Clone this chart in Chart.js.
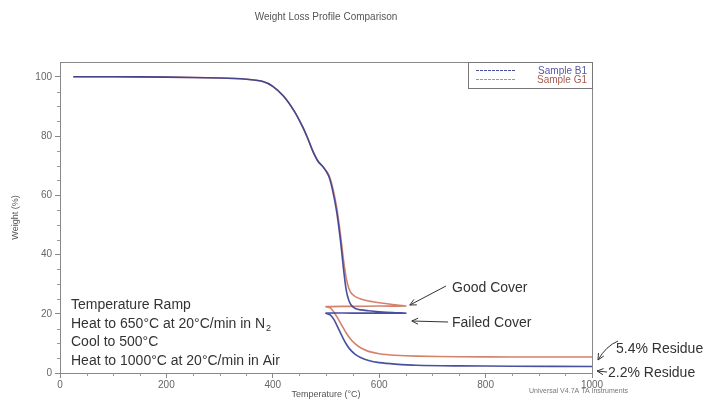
<!DOCTYPE html>
<html>
<head>
<meta charset="utf-8">
<title>Weight Loss Profile Comparison</title>
<script src="https://cdn.jsdelivr.net/npm/chart.js@4.4.1/dist/chart.umd.min.js"></script>
<style>
  html, body { margin: 0; padding: 0; background: #fff; }
  #wrap { width: 710px; height: 400px; }
</style>
</head>
<body>
<div id="wrap"><canvas id="tgaChart" width="710" height="400"></canvas></div>
<script>
// TGA data: heat to 650 in N2, cool to 500, heat to 1000 in air
const b1Temp = [25, 100, 200, 300, 350, 380, 400, 420, 440, 455, 465, 475, 485, 495, 505, 512, 520, 527, 533, 538, 543, 548, 555, 565, 580, 600, 625, 650, 600, 550, 500, 508, 515, 522, 530, 538, 546, 555, 565, 580, 600, 630, 670, 750, 850, 1000];
const b1Weight = [100, 100, 99.9, 99.6, 99.2, 98.5, 96.8, 93.5, 88.5, 83.5, 79.5, 75, 71.5, 69.5, 66.5, 62, 54.5, 45, 35, 28, 24.5, 22.8, 21.8, 21.3, 21, 20.7, 20.4, 20.2, 20.2, 20.2, 20.2, 19.6, 18, 15.5, 12.5, 9.8, 7.8, 6.3, 5.2, 4.2, 3.5, 3, 2.6, 2.4, 2.3, 2.2];

const g1Temp = [25, 100, 200, 300, 350, 380, 400, 420, 440, 455, 465, 475, 485, 495, 505, 512, 520, 527, 533, 538, 543, 548, 555, 565, 580, 600, 625, 650, 600, 550, 500, 508, 515, 522, 530, 538, 546, 555, 565, 580, 600, 630, 670, 750, 850, 1000];
const g1Weight = [100, 100, 99.9, 99.6, 99.2, 98.5, 96.8, 93.5, 88.5, 83.5, 79.5, 75, 71.5, 69.5, 67, 63, 56, 47, 38, 32, 28.5, 26.8, 25.8, 25, 24.3, 23.7, 23.1, 22.6, 22.6, 22.5, 22.4, 22, 20.5, 18.5, 16, 13.5, 11.5, 9.8, 8.5, 7.3, 6.5, 6, 5.7, 5.5, 5.4, 5.4];

const seriesNames = ['Sample B1', 'Sample G1'];
const rampNotes = ['Temperature Ramp', 'Heat to 650°C at 20°C/min in N', 'Cool to 500°C', 'Heat to 1000°C at 20°C/min in Air'];

const FONT = "'Liberation Sans', Arial, sans-serif";
const toPoints = (xs, ys) => xs.map((x, i) => ({ x: x, y: ys[i] }));

function arrow(ctx, x1, y1, x2, y2, cx, cy) {
  ctx.beginPath();
  ctx.moveTo(x1, y1);
  if (cx !== undefined) ctx.quadraticCurveTo(cx, cy, x2, y2);
  else ctx.lineTo(x2, y2);
  ctx.stroke();
  const a = cx !== undefined ? Math.atan2(y2 - cy, x2 - cx) : Math.atan2(y2 - y1, x2 - x1);
  const h = 7;
  ctx.beginPath();
  ctx.moveTo(x2 - h * Math.cos(a - 0.45), y2 - h * Math.sin(a - 0.45));
  ctx.lineTo(x2, y2);
  ctx.lineTo(x2 - h * Math.cos(a + 0.45), y2 - h * Math.sin(a + 0.45));
  ctx.stroke();
}

// frame, minor ticks, legend box and the hand-drawn notes
const extras = {
  id: 'extras',
  afterDraw(chart) {
    const ctx = chart.ctx;
    const area = chart.chartArea;
    const xs = chart.scales.x, ys = chart.scales.y;
    ctx.save();

    ctx.strokeStyle = '#888';
    ctx.lineWidth = 1;
    ctx.strokeRect(area.left + 0.5, area.top + 0.5, area.right - area.left, area.bottom - area.top);

    // minor ticks
    ctx.strokeStyle = '#999';
    ctx.beginPath();
    for (let v = 5; v <= 100; v += 5) {
      if (v % 20 === 0) continue;
      const py = Math.round(ys.getPixelForValue(v)) + 0.5;
      ctx.moveTo(area.left - 3, py);
      ctx.lineTo(area.left, py);
    }
    for (let v = 50; v < 1000; v += 50) {
      if (v % 200 === 0) continue;
      const px = Math.round(xs.getPixelForValue(v)) + 0.5;
      ctx.moveTo(px, area.bottom);
      ctx.lineTo(px, area.bottom + 3);
    }
    ctx.stroke();

    // legend
    const lx = area.left + 408, ly = area.top;
    ctx.fillStyle = '#fff';
    ctx.fillRect(lx, ly, area.right - lx, 26);
    ctx.strokeStyle = '#777';
    ctx.strokeRect(lx + 0.5, ly + 0.5, area.right - lx, 26);
    const textCols = ['#5656a8', '#a85a50'];
    chart.data.datasets.forEach((ds, i) => {
      const y = ly + 8 + i * 9;
      ctx.strokeStyle = ds.borderColor;
      ctx.setLineDash([3, 1]);
      ctx.beginPath();
      ctx.moveTo(lx + 8, y + 0.5);
      ctx.lineTo(lx + 48, y + 0.5);
      ctx.stroke();
      ctx.setLineDash([]);
      ctx.fillStyle = textCols[i];
      ctx.font = '10px ' + FONT;
      ctx.textAlign = 'right';
      ctx.textBaseline = 'middle';
      ctx.fillText(ds.label, area.right - 5, y + 1);
    });

    // footer credit
    ctx.fillStyle = '#777';
    ctx.font = '7px ' + FONT;
    ctx.textAlign = 'left';
    ctx.textBaseline = 'middle';
    ctx.fillText('Universal V4.7A TA Instruments', 529, 391);

    // ramp notes
    ctx.fillStyle = '#333';
    ctx.font = '14px ' + FONT;
    ctx.textBaseline = 'alphabetic';
    const rows = [309, 328, 346, 365];
    rampNotes.forEach((t, i) => ctx.fillText(t, 71, rows[i]));
    const nw = ctx.measureText(rampNotes[1]).width;
    ctx.font = '9px ' + FONT;
    ctx.fillText('2', 71 + nw + 1, rows[1] + 3);

    // cover labels and arrows
    ctx.font = '14px ' + FONT;
    ctx.fillText('Good Cover', 452, 292);
    ctx.fillText('Failed Cover', 452, 327);
    ctx.fillText('5.4% Residue', 616, 353);
    ctx.fillText('2.2% Residue', 608, 377);

    ctx.strokeStyle = '#333';
    ctx.lineWidth = 1;
    const endX = xs.getPixelForValue(650);
    arrow(ctx, 446, 286, endX + 4, ys.getPixelForValue(22.6) - 1);
    arrow(ctx, 448, 322, endX + 6, 321);
    const edge = xs.getPixelForValue(1000);
    arrow(ctx, 618, 341, edge + 6, ys.getPixelForValue(5.4) + 3, 606, 346);
    arrow(ctx, 607, 372, edge + 5, 371);

    ctx.restore();
  }
};

new Chart(document.getElementById('tgaChart'), {
  type: 'scatter',
  data: {
    datasets: [
      {
        label: seriesNames[0],
        data: toPoints(b1Temp, b1Weight),
        borderColor: 'rgba(52, 62, 150, 0.9)',
        backgroundColor: 'rgba(52, 62, 150, 0.9)',
        borderWidth: 1.6,
        showLine: true,
        pointRadius: 0,
        tension: 0.3
      },
      {
        label: seriesNames[1],
        data: toPoints(g1Temp, g1Weight),
        borderColor: '#d4826c',
        backgroundColor: '#d4826c',
        borderWidth: 1.6,
        showLine: true,
        pointRadius: 0,
        tension: 0.3
      }
    ]
  },
  options: {
    responsive: false,
    animation: false,
    layout: { padding: { left: 0, right: 118, top: 0, bottom: 0 } },
    plugins: {
      legend: { display: false },
      tooltip: { enabled: false },
      title: {
        display: true,
        text: 'Weight Loss Profile Comparison',
        fullSize: false,
        color: '#555',
        font: { family: FONT, size: 10, weight: 'normal' },
        padding: { top: 11, bottom: 39 }
      }
    },
    scales: {
      x: {
        type: 'linear',
        min: 0,
        max: 1000,
        afterFit: s => { s.height = 27; },
        ticks: { stepSize: 200, color: '#666', font: { family: FONT, size: 10 }, padding: 1, maxRotation: 0, callback: v => String(v) },
        grid: { drawOnChartArea: false, drawTicks: true, tickLength: 5, color: '#888' },
        border: { color: '#888' },
        title: { display: true, text: 'Temperature (°C)', color: '#555', font: { family: FONT, size: 9 }, padding: 0 }
      },
      y: {
        min: 0,
        max: 105,
        afterFit: s => { s.width = 60; },
        ticks: { stepSize: 20, includeBounds: false, color: '#666', font: { family: FONT, size: 10 }, padding: 3 },
        grid: { drawOnChartArea: false, drawTicks: true, tickLength: 5, color: '#888' },
        border: { color: '#888' },
        title: { display: true, text: 'Weight (%)', color: '#555', font: { family: FONT, size: 9 }, padding: { top: 10, bottom: 0 } }
      }
    }
  },
  plugins: [extras]
});
</script>
</body>
</html>
